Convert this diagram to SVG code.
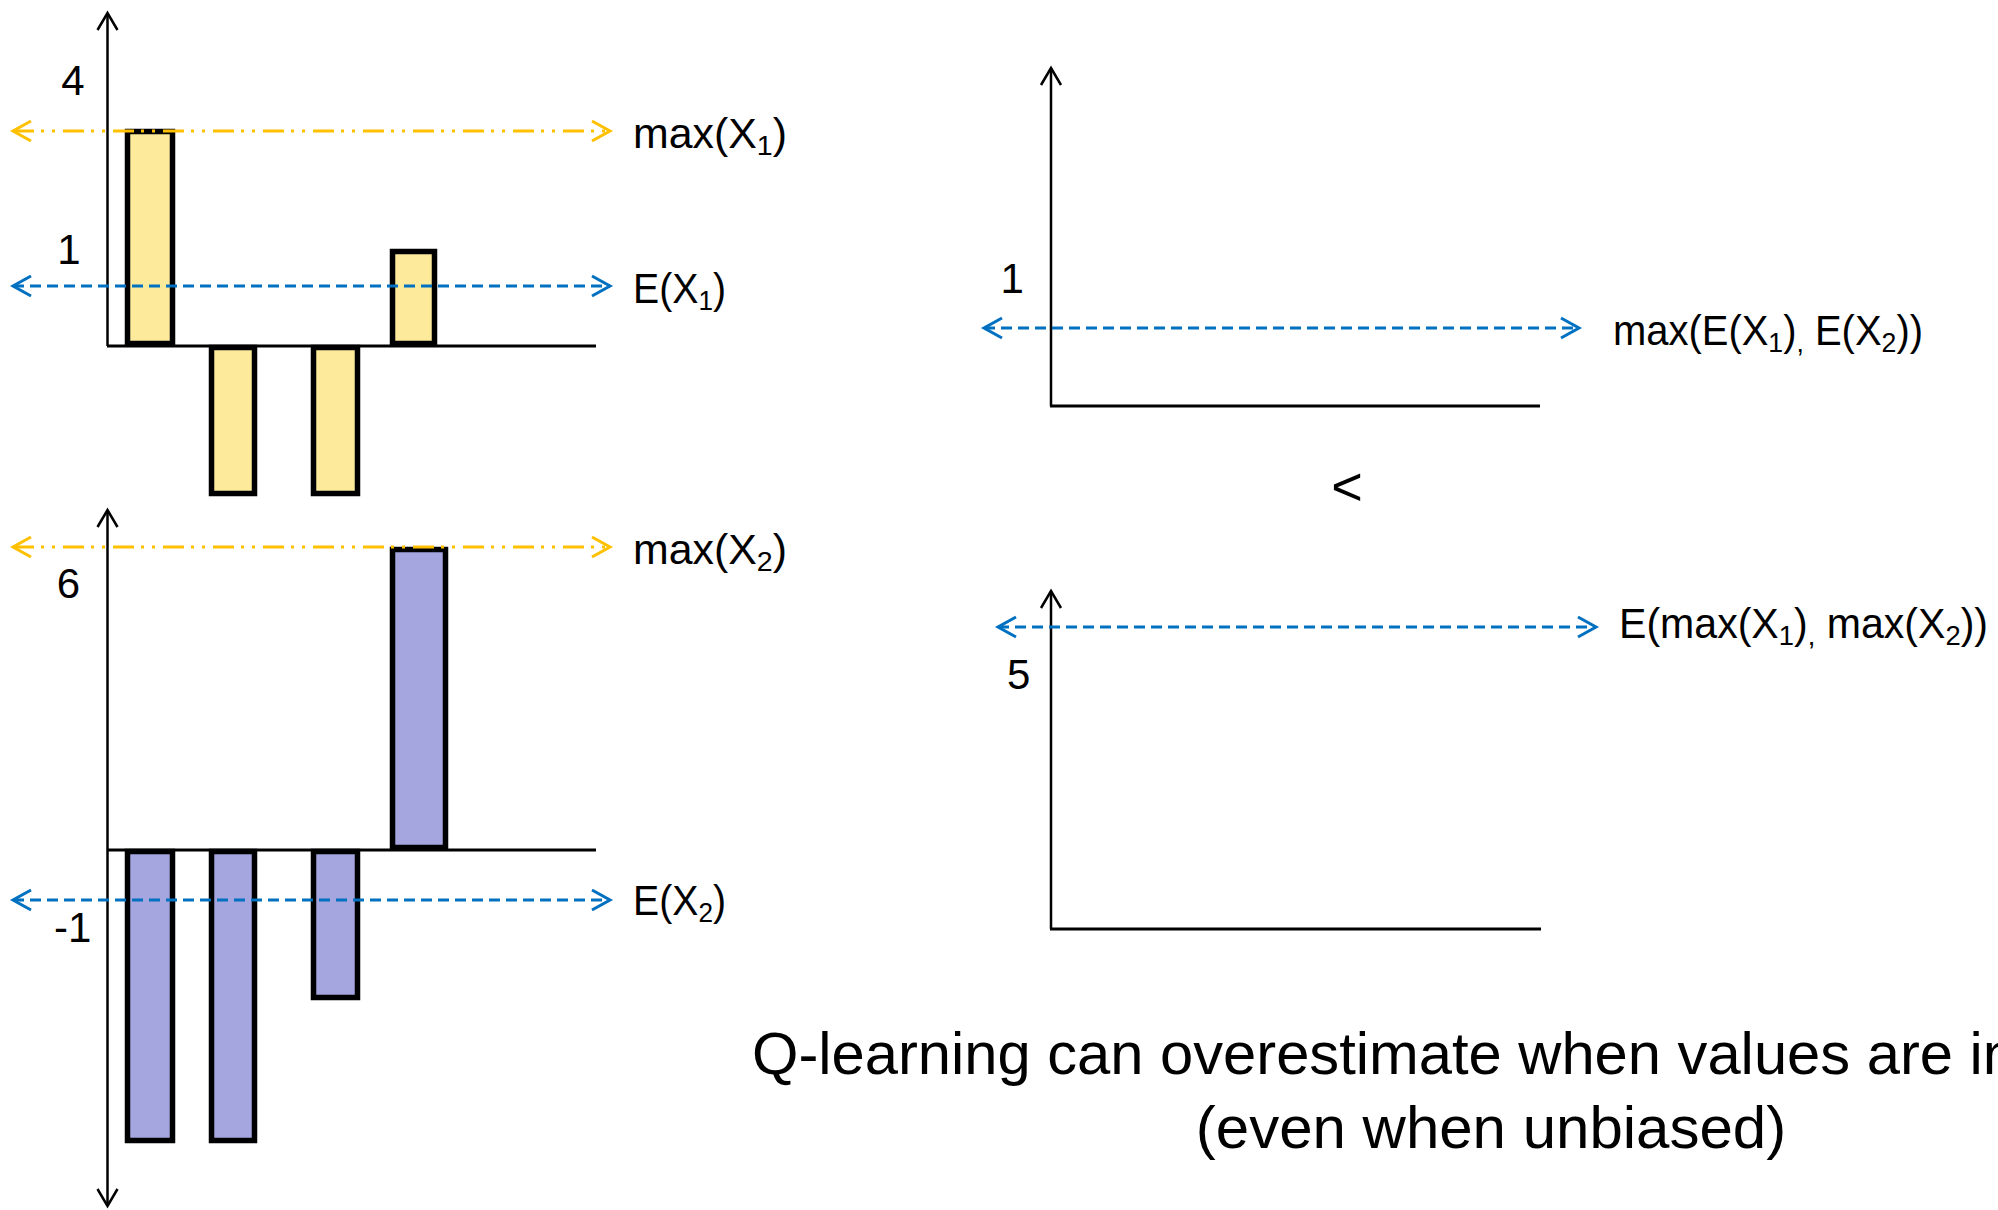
<svg xmlns="http://www.w3.org/2000/svg" width="1998" height="1210" viewBox="0 0 1998 1210">
<defs>
<style>
text{font-family:"Liberation Sans",Arial,sans-serif;fill:#000}
.lbl{font-size:42px}
.sub{font-size:28px}
.big{font-size:60px}
.lt{font-size:54px}
.axis{fill:none;stroke:#000;stroke-width:2.5}
.base{fill:none;stroke:#000;stroke-width:3}
.bar{stroke:#000;stroke-width:5.5;stroke-linejoin:miter}
.yel{fill:#FDEA9B}
.pur{fill:#A5A5DF}
.orange{fill:none;stroke:#FFC000;stroke-width:3;stroke-dasharray:21 7 3 8 3 8;marker-start:url(#chevO);marker-end:url(#chevO)}
.blue{fill:none;stroke:#0070C0;stroke-width:3;stroke-dasharray:11 6;marker-start:url(#chevB);marker-end:url(#chevB)}
</style>
<marker id="chevO" markerUnits="userSpaceOnUse" viewBox="-22 -14 26 28" markerWidth="26" markerHeight="28" refX="0" refY="0" orient="auto-start-reverse" overflow="visible"><path d="M-18,-10 L0,0 L-18,10" fill="none" stroke="#FFC000" stroke-width="3"/></marker>
<marker id="chevB" markerUnits="userSpaceOnUse" viewBox="-22 -14 26 28" markerWidth="26" markerHeight="28" refX="0" refY="0" orient="auto-start-reverse" overflow="visible"><path d="M-18,-10 L0,0 L-18,10" fill="none" stroke="#0070C0" stroke-width="3"/></marker>
<marker id="chevK" markerUnits="userSpaceOnUse" viewBox="-22 -14 26 28" markerWidth="26" markerHeight="28" refX="0" refY="0" orient="auto-start-reverse" overflow="visible"><path d="M-17,-10 L0,0 L-17,10" fill="none" stroke="#000" stroke-width="2.5"/></marker>
</defs>

<g id="chart-x1">
  <path class="axis" d="M107.5,346 L107.5,13" marker-end="url(#chevK)"/>
  <path class="base" d="M107,346 L596,346"/>
  <rect class="bar yel" x="127.5" y="131.5" width="45" height="212"/>
  <rect class="bar yel" x="211.5" y="347.5" width="43" height="146"/>
  <rect class="bar yel" x="313.5" y="347.5" width="44" height="146"/>
  <rect class="bar yel" x="392.5" y="251.5" width="42" height="92"/>
  <text class="lbl" x="73" y="95" text-anchor="middle">4</text>
  <text class="lbl" x="69" y="264" text-anchor="middle">1</text>
</g>

<g id="chart-x2">
  <path class="axis" d="M107.5,510 L107.5,1206" marker-start="url(#chevK)" marker-end="url(#chevK)"/>
  <path class="base" d="M107,850 L596,850"/>
  <rect class="bar pur" x="127.5" y="851.5" width="45" height="289"/>
  <rect class="bar pur" x="211.5" y="851.5" width="43" height="289"/>
  <rect class="bar pur" x="313.5" y="851.5" width="44" height="146"/>
  <rect class="bar pur" x="392.5" y="549.5" width="53" height="298"/>
  <text class="lbl" x="68.5" y="598" text-anchor="middle">6</text>
  <text class="lbl" x="54" y="942">-1</text>
</g>

<g id="chart-maxE">
  <path class="axis" d="M1051,406 L1051,68" marker-end="url(#chevK)"/>
  <path class="base" d="M1050,406 L1540,406"/>
  <text class="lbl" x="1000.5" y="293">1</text>
</g>

<g id="less-than">
  <text class="lt" x="1347" y="505" text-anchor="middle">&lt;</text>
</g>

<g id="chart-Emax">
  <path class="axis" d="M1051,929 L1051,591" marker-end="url(#chevK)"/>
  <path class="base" d="M1050,929 L1541,929"/>
  <text class="lbl" x="1007" y="689">5</text>
</g>

<g id="connectors">
  <path class="orange" d="M13,131 L610,131"/>
  <path class="blue" d="M13,286 L610,286"/>
  <path class="orange" d="M13,547 L610,547"/>
  <path class="blue" d="M13,900 L610,900"/>
  <path class="blue" d="M984,328 L1579,328"/>
  <path class="blue" d="M998,627 L1596,627"/>
</g>

<g id="labels">
  <text class="lbl" x="633" y="148" textLength="154" lengthAdjust="spacingAndGlyphs">max(X<tspan class="sub" dy="7">1</tspan><tspan dy="-7">)</tspan></text>
  <text class="lbl" x="633" y="303" textLength="93" lengthAdjust="spacingAndGlyphs">E(X<tspan class="sub" dy="7">1</tspan><tspan dy="-7">)</tspan></text>
  <text class="lbl" x="633" y="564" textLength="154" lengthAdjust="spacingAndGlyphs">max(X<tspan class="sub" dy="7">2</tspan><tspan dy="-7">)</tspan></text>
  <text class="lbl" x="633" y="915" textLength="93" lengthAdjust="spacingAndGlyphs">E(X<tspan class="sub" dy="7">2</tspan><tspan dy="-7">)</tspan></text>
  <text class="lbl" x="1613" y="345" textLength="310" lengthAdjust="spacingAndGlyphs">max(E(X<tspan class="sub" dy="7">1</tspan><tspan dy="-7">)</tspan><tspan class="sub" dy="7">,</tspan><tspan dy="-7"> E(X</tspan><tspan class="sub" dy="7">2</tspan><tspan dy="-7">))</tspan></text>
  <text class="lbl" x="1619" y="638" textLength="369" lengthAdjust="spacingAndGlyphs">E(max(X<tspan class="sub" dy="7">1</tspan><tspan dy="-7">)</tspan><tspan class="sub" dy="7">,</tspan><tspan dy="-7"> max(X</tspan><tspan class="sub" dy="7">2</tspan><tspan dy="-7">))</tspan></text>
</g>

<g id="caption">
  <text class="big" x="752" y="1074" textLength="1264" lengthAdjust="spacingAndGlyphs">Q-learning can overestimate when values are in</text>
  <text class="big" x="1491" y="1148" text-anchor="middle">(even when unbiased)</text>
</g>
</svg>
